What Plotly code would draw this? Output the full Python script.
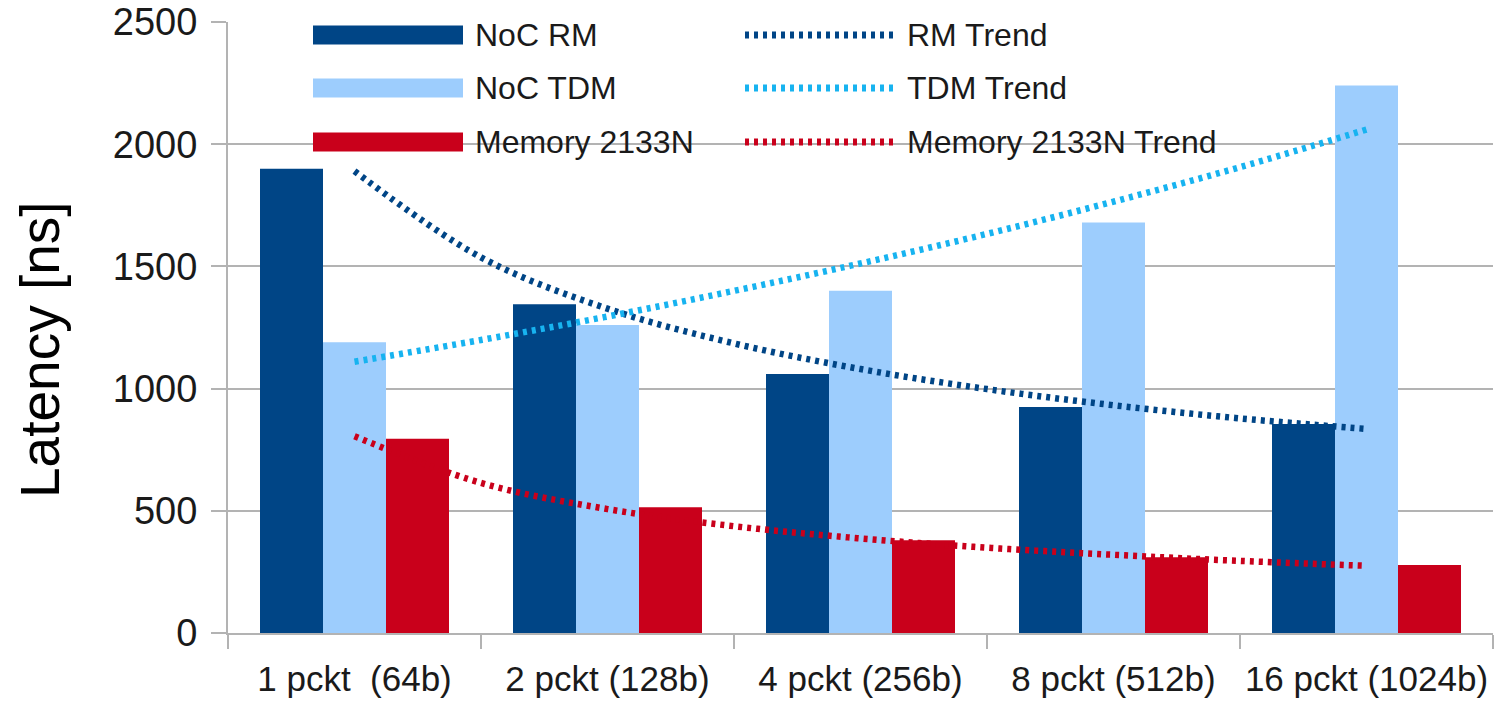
import plotly.graph_objects as go

# ---- data ----
categories = ["1 pckt\u00a0 (64b)", "2 pckt (128b)", "4 pckt (256b)", "8 pckt (512b)", "16 pckt (1024b)"]
noc_rm = [1900, 1345, 1060, 925, 855]
noc_tdm = [1190, 1260, 1400, 1680, 2240]
memory = [795, 515, 380, 310, 278]

trend_x = [0, 0.5, 1, 1.5, 2, 2.5, 3, 3.5, 4]
rm_trend = [1890, 1537, 1327, 1185, 1080, 998, 932, 878, 835]
tdm_trend = [1110, 1199, 1295, 1400, 1512, 1633, 1765, 1906, 2060]
mem_trend = [805, 614, 507, 437, 387, 349, 320, 295, 275]

y_ticks = [0, 500, 1000, 1500, 2000, 2500]
y_title = "Latency [ns]"

series_names = ["NoC RM", "NoC TDM", "Memory 2133N"]
trend_names = ["RM Trend", "TDM Trend", "Memory 2133N Trend"]
bar_colors = ["#004586", "#9dcdfd", "#c9001b"]
trend_colors = ["#004586", "#17b3f0", "#c9001b"]

FONT = "Liberation Sans, Arial, sans-serif"
W, H = 1499, 701
L, R, T, B = 228, 6, 22, 68

x_idx = list(range(len(categories)))

fig = go.Figure()
for name, vals, col in zip(series_names, [noc_rm, noc_tdm, memory], bar_colors):
    fig.add_trace(go.Bar(x=x_idx, y=vals, name=name, marker=dict(color=col, line=dict(width=0)),
                         showlegend=False))
for name, vals, col in zip(trend_names, [rm_trend, tdm_trend, mem_trend], trend_colors):
    fig.add_trace(go.Scatter(x=trend_x, y=vals, name=name, mode="lines",
                             line=dict(color=col, width=6.5, dash="4px,5px", shape="spline"),
                             showlegend=False))

# ---- custom legend (drawn to match wide swatches) ----
pw, ph = W - L - R, H - T - B
def px(x):
    return (x - L) / pw
def py(y):
    return (H - B - y) / ph

rows_y = [35, 88, 142]
shapes = []
annotations = []
for i, ry in enumerate(rows_y):
    shapes.append(dict(type="rect", xref="paper", yref="paper",
                       x0=px(313), x1=px(463), y0=py(ry + 9.5), y1=py(ry - 9.5),
                       fillcolor=bar_colors[i], line=dict(width=0), layer="above"))
    annotations.append(dict(xref="paper", yref="paper", x=px(473), y=py(ry), text=series_names[i],
                            showarrow=False, xanchor="left", yanchor="middle",
                            font=dict(family=FONT, size=32, color="#1a1a1a")))
    shapes.append(dict(type="line", xref="paper", yref="paper",
                       x0=px(745), x1=px(895), y0=py(ry), y1=py(ry),
                       line=dict(color=trend_colors[i], width=7, dash="4px,5px"), layer="above"))
    annotations.append(dict(xref="paper", yref="paper", x=px(905), y=py(ry), text=trend_names[i],
                            showarrow=False, xanchor="left", yanchor="middle",
                            font=dict(family=FONT, size=32, color="#1a1a1a")))

# y-axis title (placed slightly below the plot's vertical centre, as in the reference)
annotations.append(dict(xref="paper", yref="paper", x=px(40), y=py(350), text=y_title,
                        textangle=-90, showarrow=False, xanchor="center", yanchor="middle",
                        font=dict(family=FONT, size=55, color="#000000")))

fig.update_layout(
    width=W, height=H,
    margin=dict(l=L, r=R, t=T, b=B, pad=0, autoexpand=False),
    paper_bgcolor="white", plot_bgcolor="white",
    barmode="group", bargap=0.253, bargroupgap=0,
    font=dict(family=FONT, color="#1a1a1a"),
    shapes=shapes, annotations=annotations,
    showlegend=False,
)
fig.update_xaxes(
    range=[-0.5, len(categories) - 0.5], automargin=False,
    tickmode="array", tickvals=x_idx, ticktext=categories,
    ticks="outside", ticklen=14, tickcolor="rgba(0,0,0,0)",
    tickfont=dict(family=FONT, size=35, color="#1a1a1a"),
    showline=True, linecolor="#b3b3b3", linewidth=2,
    showgrid=False, zeroline=False,
    minor=dict(tickvals=[i - 0.5 for i in range(len(categories) + 1)], ticks="outside",
               ticklen=14, tickcolor="#b3b3b3", tickwidth=2, showgrid=False),
)
fig.update_yaxes(
    range=[0, 2500], tickmode="array", tickvals=y_ticks, automargin=False,
    ticks="outside", ticklen=15, tickcolor="#b3b3b3", tickwidth=2,
    tickfont=dict(family=FONT, size=38, color="#1a1a1a"), ticklabelstandoff=6,
    showline=True, linecolor="#b3b3b3", linewidth=2,
    showgrid=True, gridcolor="#b3b3b3", gridwidth=2, zeroline=False,
)

fig.write_html("out.html", config={"displayModeBar": False},
               post_script="document.body.style.margin='0px';document.body.style.overflow='hidden';")
